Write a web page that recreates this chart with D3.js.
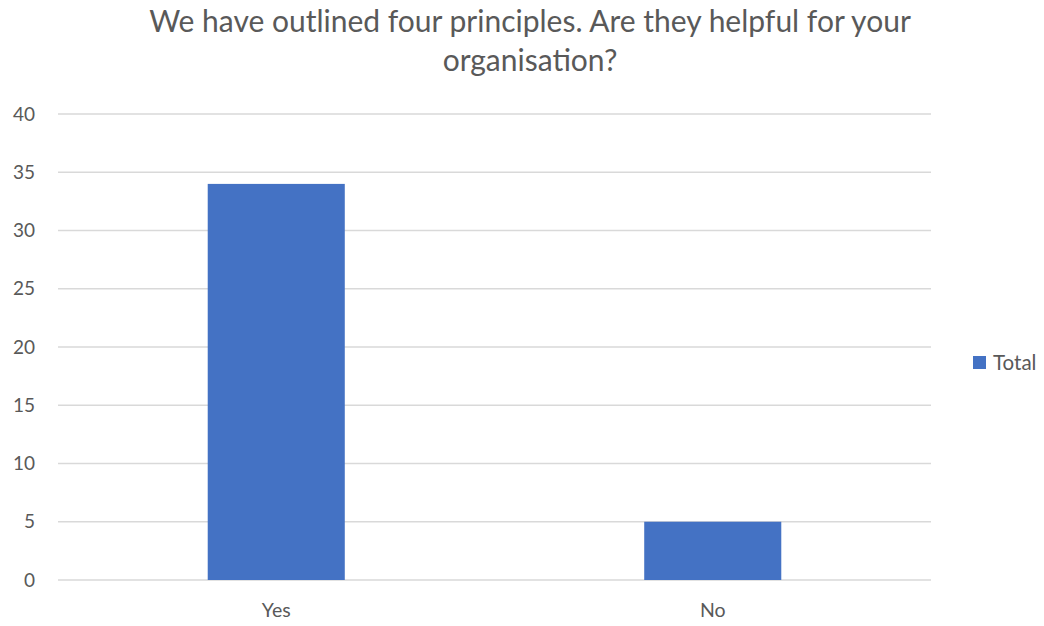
<!DOCTYPE html>
<html>
<head>
<meta charset="utf-8">
<script src="https://cdn.jsdelivr.net/npm/d3@7"></script>
<style>
  html, body { margin: 0; padding: 0; background: #fff; }
  svg text { font-family: Lato, "Open Sans", sans-serif; }
</style>
</head>
<body>
<svg id="chart" width="1044" height="626"></svg>
<script>
const categories = ["Yes", "No"];
const totals = [34, 5];
const yTicks = [0, 5, 10, 15, 20, 25, 30, 35, 40];
const seriesName = "Total";
const titleLines = ["We have outlined four principles. Are they helpful for your", "organisation?"];

const svg = d3.select("#chart");
const plot = { left: 58, right: 931, top: 114, bottom: 580 };

const x = d3.scaleBand()
  .domain(categories)
  .range([plot.left, plot.right])
  .paddingInner(0.686)
  .paddingOuter(0.343);

const y = d3.scaleLinear()
  .domain([0, 40])
  .range([plot.bottom, plot.top]);

// horizontal gridlines
svg.append("g")
  .selectAll("line")
  .data(yTicks)
  .join("line")
  .attr("x1", plot.left)
  .attr("x2", plot.right)
  .attr("y1", d => y(d))
  .attr("y2", d => y(d))
  .attr("stroke", "#d9d9d9")
  .attr("stroke-width", 1.3);

// y-axis labels
svg.append("g")
  .selectAll("text")
  .data(yTicks)
  .join("text")
  .attr("x", 35)
  .attr("y", d => y(d))
  .attr("dy", "0.35em")
  .attr("text-anchor", "end")
  .attr("fill", "#595959")
  .attr("font-size", 19)
  .text(d => d);

// bars
svg.append("g")
  .selectAll("rect")
  .data(categories)
  .join("rect")
  .attr("x", d => x(d))
  .attr("width", x.bandwidth())
  .attr("y", (d, i) => y(totals[i]))
  .attr("height", (d, i) => y(0) - y(totals[i]))
  .attr("fill", "#4472c4");

// category labels
svg.append("g")
  .selectAll("text")
  .data(categories)
  .join("text")
  .attr("x", d => x(d) + x.bandwidth() / 2)
  .attr("y", 617)
  .attr("text-anchor", "middle")
  .attr("fill", "#595959")
  .attr("font-size", 19.5)
  .text(d => d);

// title
svg.append("g")
  .selectAll("text")
  .data(titleLines)
  .join("text")
  .attr("x", 530)
  .attr("y", (d, i) => 32 + i * 39)
  .attr("text-anchor", "middle")
  .attr("fill", "#595959")
  .attr("font-size", 30)
  .attr("font-weight", 400)
  .text(d => d);

// legend
const legend = svg.append("g");
legend.append("rect")
  .attr("x", 973).attr("y", 356)
  .attr("width", 13).attr("height", 13)
  .attr("fill", "#4472c4");
legend.append("text")
  .attr("x", 993).attr("y", 363)
  .attr("dy", "0.35em")
  .attr("fill", "#595959")
  .attr("font-size", 20.5)
  .text(seriesName);
</script>
</body>
</html>
